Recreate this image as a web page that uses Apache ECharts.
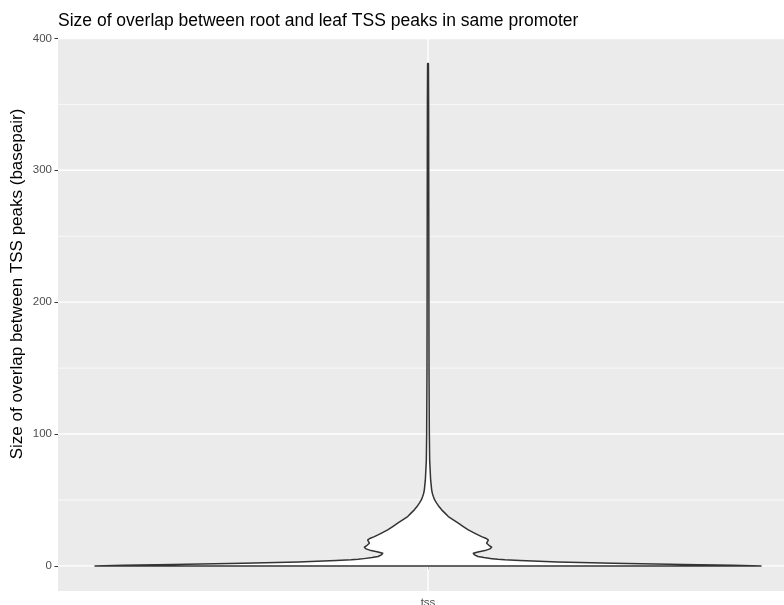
<!DOCTYPE html>
<html>
<head>
<meta charset="utf-8">
<script src="https://cdn.jsdelivr.net/npm/echarts@6/dist/echarts.min.js"></script>
<style>
  html, body { margin: 0; padding: 0; background: #ffffff; }
  #chart { width: 784px; height: 605px; }
</style>
</head>
<body>
<div id="chart"></div>
<script>
// Single category on the x axis
const categories = ['tss'];

// Violin outline: overlap size (bp) and the relative kernel density at that size (1 = widest)
const overlapBp = [
  0, 0.4, 1, 2, 3, 4, 4.6, 5.0, 5.5, 6.3, 7.1, 8.3, 9.6, 10.6, 11.6, 12.9, 14.2,
  15.6, 17.2, 18.5, 19.7, 21.0, 22.2, 24.7, 27.3, 29.8, 32.4, 34.9, 37.4, 40.0,
  42.5, 45.0, 47.6, 50.0, 52.6, 55.0, 57.7, 65, 80, 100, 150, 200, 250, 300, 350, 381
];
const densityRel = [
  1.000, 0.916, 0.766, 0.556, 0.390, 0.276, 0.231, 0.210, 0.192, 0.168, 0.150, 0.140, 0.136, 0.150, 0.171, 0.186, 0.191,
  0.183, 0.176, 0.179, 0.181, 0.173, 0.161, 0.141, 0.121, 0.106, 0.091, 0.076, 0.061, 0.051,
  0.041, 0.033, 0.026, 0.020, 0.016, 0.013, 0.011, 0.008, 0.005, 0.004, 0.003, 0.0027, 0.0024, 0.0021, 0.0018, 0.0012
];

// Axis breaks
const yTicks = [0, 100, 200, 300, 400];
const yMinorBreaks = [50, 150, 250, 350];

// 5% padding around the data range on the value axis
const dataMin = Math.min(...overlapBp);
const dataMax = Math.max(...overlapBp);
const pad = 0.05 * (dataMax - dataMin);

const chart = echarts.init(document.getElementById('chart'), null, { renderer: 'canvas' });

chart.setOption({
  animation: false,
  backgroundColor: '#ffffff',
  title: {
    text: 'Size of overlap between root and leaf TSS peaks in same promoter',
    left: 58,
    top: 12,
    padding: 0,
    textStyle: { fontFamily: 'Liberation Sans', fontSize: 17.5, fontWeight: 'normal', color: '#000000' }
  },
  grid: {
    left: 58,
    right: -14,
    top: 38.4,
    bottom: 14,
    show: true,
    backgroundColor: '#EBEBEB',
    borderWidth: 0,
    outerBoundsMode: 'none'
  },
  xAxis: {
    type: 'category',
    data: categories,
    boundaryGap: true,
    axisLine: { show: false },
    axisTick: { show: true, alignWithLabel: true, length: 3.5, lineStyle: { color: '#333333', width: 1 } },
    axisLabel: { color: '#4D4D4D', fontSize: 11.5, fontFamily: 'Liberation Sans', margin: 6 },
    splitLine: { show: false }
  },
  yAxis: {
    type: 'value',
    min: dataMin - pad,
    max: dataMax + pad,
    axisLine: { show: false },
    axisTick: { show: true, length: 3.5, lineStyle: { color: '#333333', width: 1 }, customValues: yTicks },
    axisLabel: { color: '#4D4D4D', fontSize: 11.5, fontFamily: 'Liberation Sans', margin: 6, customValues: yTicks },
    splitLine: { show: false },
    minorSplitLine: { show: false }
  },
  graphic: [{
    type: 'text',
    x: 17,
    y: 284,
    rotation: Math.PI / 2,
    style: {
      text: 'Size of overlap between TSS peaks (basepair)',
      fontFamily: 'Liberation Sans',
      fontSize: 17,
      fill: '#000000',
      align: 'center',
      verticalAlign: 'middle'
    }
  }],
  series: [
    {
      // panel grid lines (white), drawn beneath the violin
      type: 'custom',
      z: 1,
      silent: true,
      data: [[0, 0]],
      renderItem(params, api) {
        const cs = params.coordSys;
        const children = [];
        yMinorBreaks.forEach(v => {
          const y = api.coord([0, v])[1];
          children.push({ type: 'line', shape: { x1: cs.x, y1: y, x2: cs.x + cs.width, y2: y },
            style: { stroke: '#ffffff', lineWidth: 0.7 } });
        });
        yTicks.forEach(v => {
          const y = api.coord([0, v])[1];
          children.push({ type: 'line', shape: { x1: cs.x, y1: y, x2: cs.x + cs.width, y2: y },
            style: { stroke: '#ffffff', lineWidth: 1.4 } });
        });
        categories.forEach((c, i) => {
          const x = api.coord([i, 0])[0];
          children.push({ type: 'line', shape: { x1: x, y1: cs.y, x2: x, y2: cs.y + cs.height },
            style: { stroke: '#ffffff', lineWidth: 1.4 } });
        });
        return { type: 'group', children };
      }
    },
    {
      // mirrored density outline
      type: 'custom',
      z: 2,
      silent: true,
      data: [[0, 0]],
      renderItem(params, api) {
        const centre = api.coord([0, 0])[0];
        const half = api.size([1, 0])[0] * 0.45;
        const right = overlapBp.map((v, i) => [centre + densityRel[i] * half, api.coord([0, v])[1]]);
        const left = right.slice().reverse().map(p => [2 * centre - p[0], p[1]]);
        return {
          type: 'polygon',
          shape: { points: right.concat(left) },
          style: { fill: '#ffffff', stroke: '#333333', lineWidth: 1.5, lineJoin: 'round' }
        };
      }
    }
  ]
});
</script>
</body>
</html>
